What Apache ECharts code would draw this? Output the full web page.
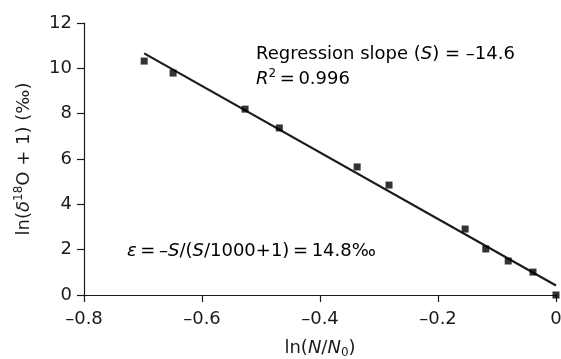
<!DOCTYPE html>
<html>
<head>
<meta charset="utf-8">
<script src="https://cdn.jsdelivr.net/npm/echarts@6/dist/echarts.min.js"></script>
<style>
  html, body { margin: 0; padding: 0; background: #fff; }
  #chart { width: 561px; height: 359px; }
</style>
</head>
<body>
<div id="chart"></div>
<script>
// observed ln(N/N0) vs ln(delta18O + 1)
const obsX = [-0.698, -0.649, -0.527, -0.469, -0.337, -0.283, -0.154, -0.119, -0.081, -0.039, 0]
const obsY = [10.32, 9.79, 8.2, 7.37, 5.65, 4.85, 2.91, 2.03, 1.5, 1.01, 0]

// regression line end points
const fitX = [-0.698, 0]
const fitY = [10.66, 0.42]

const xTicks = { min: -0.8, max: 0, interval: 0.2 }
const yTicks = { min: 0, max: 12, interval: 2 }

const ink = '#1a1a1a'
const font = "'DejaVu Sans', 'Liberation Sans', sans-serif"

const rich = {
  n: { fontSize: 18, fontFamily: font, color: ink, lineHeight: 22 },
  i: { fontSize: 18, fontFamily: font, color: ink, lineHeight: 22, fontStyle: 'italic' },
  sup: { fontSize: 12, fontFamily: font, color: ink, lineHeight: 9, verticalAlign: 'top' },
  sub: { fontSize: 12, fontFamily: font, color: ink, lineHeight: 9, verticalAlign: 'bottom' },
}

const minus = (v) => (v < 0 ? '\u2013' + Math.abs(v) : String(v))

const chart = echarts.init(document.getElementById('chart'))

chart.setOption({
  animation: false,
  grid: { left: 84, right: 5, top: 23, bottom: 64, outerBoundsMode: 'none' },
  xAxis: {
    type: 'value',
    min: xTicks.min,
    max: xTicks.max,
    interval: xTicks.interval,
    name: '{n|ln(}{i|N}{n|/}{i|N}{sub|0}{n|)}',
    nameLocation: 'middle',
    nameGap: 42,
    nameTextStyle: { rich },
    axisLine: { onZero: false, lineStyle: { color: ink, width: 1.2 } },
    axisTick: { length: 7, lineStyle: { color: ink, width: 1.2 } },
    axisLabel: { color: ink, fontSize: 18, fontFamily: font, margin: 15, formatter: minus },
    splitLine: { show: false },
  },
  yAxis: {
    type: 'value',
    min: yTicks.min,
    max: yTicks.max,
    interval: yTicks.interval,
    name: '{n|ln(}{i|δ}{sup|18}{n|O + 1) (‰)}',
    nameLocation: 'middle',
    nameGap: 49,
    nameTextStyle: { rich },
    axisLine: { show: true, onZero: false, lineStyle: { color: ink, width: 1.2 } },
    axisTick: { show: true, length: 7, lineStyle: { color: ink, width: 1.2 } },
    axisLabel: { color: ink, fontSize: 18, fontFamily: font, margin: 12 },
    splitLine: { show: false },
  },
  series: [
    {
      type: 'line',
      data: fitX.map((x, k) => [x, fitY[k]]),
      symbol: 'none',
      lineStyle: { color: ink, width: 2.2 },
      z: 2,
    },
    {
      type: 'scatter',
      data: obsX.map((x, k) => [x, obsY[k]]),
      symbol: 'rect',
      symbolSize: 7,
      itemStyle: { color: '#000' },
      z: 3,
    },
  ],
  graphic: [
    {
      type: 'text',
      x: 256,
      y: 54,
      style: {
        text: '{n|Regression slope (}{i|S}{n|) = \u201314.6}',
        rich,
        verticalAlign: 'middle',
      },
    },
    {
      type: 'text',
      x: 256,
      y: 79,
      style: {
        text: '{i|R}{sup|2}{n|\u2009=\u20090.996}',
        rich,
        verticalAlign: 'middle',
      },
    },
    {
      type: 'text',
      x: 127,
      y: 251,
      style: {
        text: '{i|ε}{n|\u2009=\u2009\u2013}{i|S}{n|/(}{i|S}{n|/1000+1)\u2009=\u200914.8‰}',
        rich,
        verticalAlign: 'middle',
      },
    },
  ],
})
</script>
</body>
</html>
